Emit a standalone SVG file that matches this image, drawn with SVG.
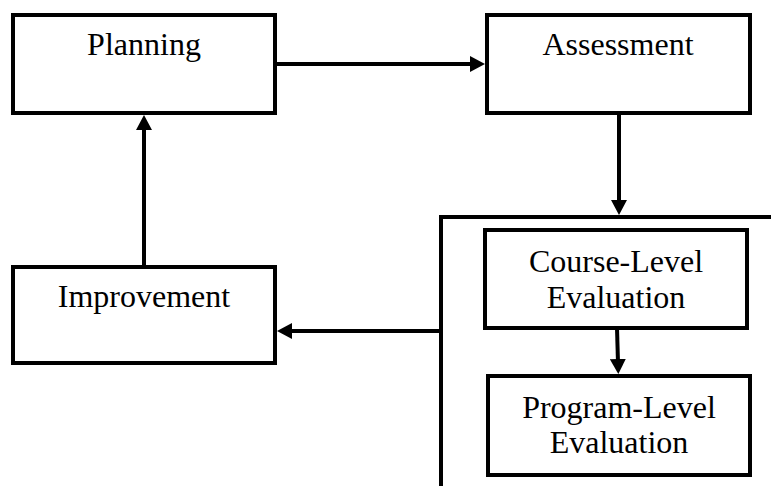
<svg xmlns="http://www.w3.org/2000/svg" width="771" height="486" viewBox="0 0 771 486">
<style>
.box{fill:#fff;stroke:#000;stroke-width:4}
.t{font-family:"Liberation Serif","Times New Roman",serif;font-size:32px;fill:#000;text-anchor:middle}
.c{fill:none;stroke:#000;stroke-width:4}
</style>
<defs>
<marker id="ah" markerUnits="userSpaceOnUse" viewBox="0 0 15 16" markerWidth="15" markerHeight="16" refX="4" refY="8" orient="auto">
<path d="M0,0 L15,8 L0,16 Z" fill="#000"/>
</marker>
</defs>
<rect width="771" height="486" fill="#fff"/>
<g id="connectors">
<line class="c" x1="275" y1="64" x2="474" y2="64" marker-end="url(#ah)"/>
<line class="c" x1="619" y1="113" x2="619" y2="204" marker-end="url(#ah)"/>
<line class="c" x1="441" y1="331" x2="288" y2="331" marker-end="url(#ah)"/>
<line class="c" x1="144" y1="267" x2="144" y2="126" marker-end="url(#ah)"/>
<line class="c" x1="617" y1="328" x2="618" y2="363" marker-end="url(#ah)"/>
<path class="c" d="M441,486 V217 H771"/>
</g>
<g id="planning">
<rect class="box" x="13" y="15" width="262" height="98"/>
<text class="t" x="144" y="55">Planning</text>
</g>
<g id="assessment">
<rect class="box" x="487" y="15" width="263" height="98"/>
<text class="t" x="618" y="55">Assessment</text>
</g>
<g id="improvement">
<rect class="box" x="13" y="267" width="262" height="96"/>
<text class="t" x="144" y="307">Improvement</text>
</g>
<g id="course">
<rect class="box" x="485" y="230" width="262" height="98"/>
<text class="t" x="616" y="272">Course-Level</text>
<text class="t" x="616" y="308">Evaluation</text>
</g>
<g id="program">
<rect class="box" x="488" y="376" width="262" height="99"/>
<text class="t" x="619" y="418">Program-Level</text>
<text class="t" x="619" y="453">Evaluation</text>
</g>
</svg>
